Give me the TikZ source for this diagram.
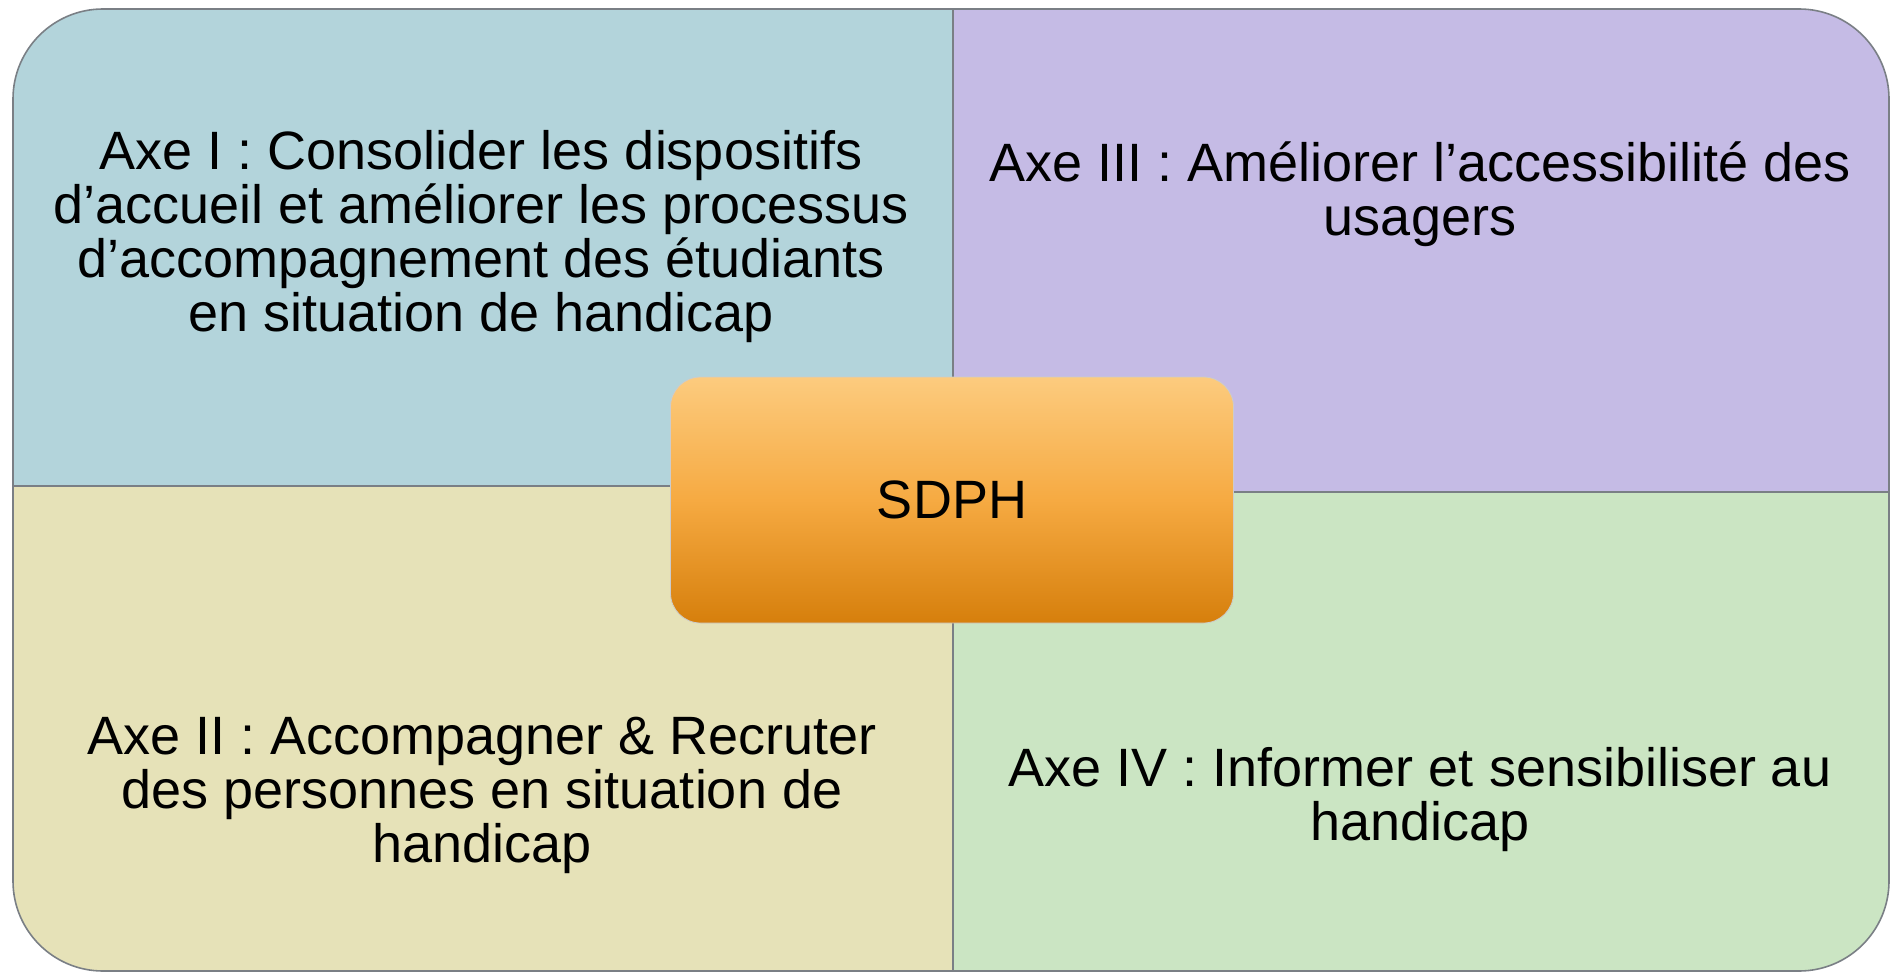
\documentclass[tikz,border=0pt]{standalone}
\usepackage{fontspec}
\setmainfont{Liberation Sans}
\usepackage{tikz}
\definecolor{axeone}{HTML}{B3D4DB}
\definecolor{axetwo}{HTML}{E6E2B8}
\definecolor{axethree}{HTML}{C5BBE5}
\definecolor{axefour}{HTML}{CBE5C3}
\definecolor{edgegray}{HTML}{7A7F85}
\definecolor{hubtop}{HTML}{FCCB7E}
\definecolor{hubmid}{HTML}{F6AA42}
\definecolor{hubbot}{HTML}{D67F0C}
\tikzset{
    quadrant/.style={draw=edgegray, line width=0.8pt},
    axetext/.style={align=center, inner sep=0pt, font=\fontsize{27pt}{27pt}\selectfont},
    hub/.style={draw=white!60!gray, thin, rounded corners=15pt, minimum width=281.5pt, minimum height=123pt,
        top color=hubtop, bottom color=hubbot, middle color=hubmid, font=\fontsize{27pt}{27pt}\selectfont} }

\begin{document}
\begin{tikzpicture}[x=0.5pt, y=-0.5pt]
			\useasboundingbox (0,0) rectangle (1890,973);
			% ----
			\path[quadrant, fill=axeone] (953,486) -- (13,486) -- (13,99)
			arc[start angle=180, end angle=90, radius=45pt] -- (953,9) -- cycle;
			\path[quadrant, fill=axethree] (953,9) -- (1799,9)
			arc[start angle=90, end angle=0, radius=45pt] -- (1889,492) -- (953,492) -- cycle;
			\path[quadrant, fill=axetwo] (13,486) -- (953,486) -- (953,971) -- (103,971)
			arc[start angle=270, end angle=180, radius=45pt] -- cycle;
			\path[quadrant, fill=axefour] (953,492) -- (1889,492) -- (1889,881)
			arc[start angle=0, end angle=-90, radius=45pt] -- (953,971) -- cycle;
			% ----
			\node[axetext] (axeI) at (481,237) {Axe I : Consolider les dispositifs\\d’accueil et améliorer les processus\\d’accompagnement des étudiants\\en situation de handicap};
			\node[axetext] (axeIII) at (1420,194) {Axe III : Améliorer l’accessibilité des\\usagers};
			\node[axetext] (axeII) at (482,795) {Axe II : Accompagner \& Recruter\\des personnes en situation de\\handicap};
			\node[axetext] (axeIV) at (1420,800) {Axe IV : Informer et sensibiliser au\\handicap};
			% ----
			\node[hub] (sdph) at (952,500) {SDPH};
		\end{tikzpicture}
\end{document}
